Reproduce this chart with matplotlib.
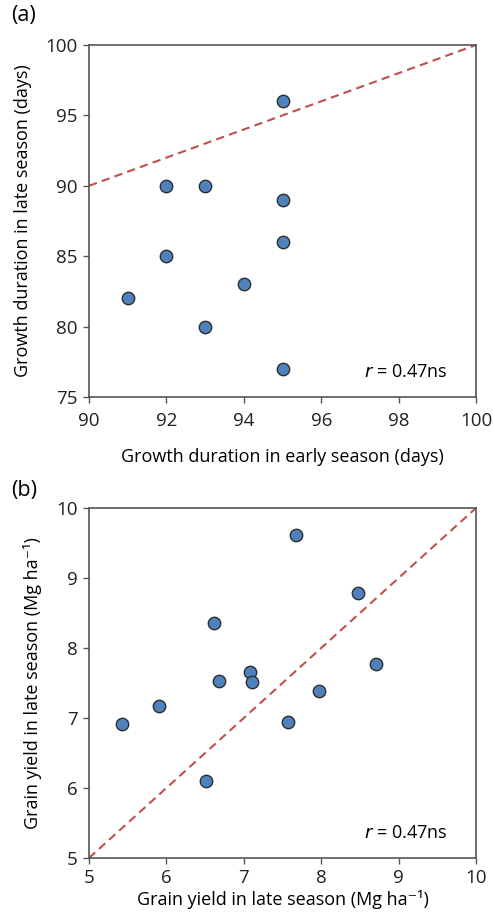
import matplotlib
matplotlib.use('Agg')
import matplotlib.pyplot as plt

plt.rcParams['font.family'] = ['Open Sans', 'DejaVu Sans']

# panel (a): growth duration (days)
dur_early = [91, 92, 92, 93, 93, 94, 95, 95, 95, 95]
dur_late = [82, 90, 85, 90, 80, 83, 96, 89, 86, 77]
dur_ticks_x = [90, 92, 94, 96, 98, 100]
dur_ticks_y = [75, 80, 85, 90, 95, 100]

# panel (b): grain yield (Mg ha-1)
yield_early = [5.42, 5.90, 6.51, 6.61, 6.68, 7.08, 7.10, 7.57, 7.68, 7.97, 8.47, 8.71]
yield_late = [6.92, 7.17, 6.10, 8.36, 7.53, 7.66, 7.52, 6.94, 9.61, 7.39, 8.78, 7.77]
yield_ticks = [5, 6, 7, 8, 9, 10]

r_text = '$\\it{r}$ = 0.47ns'

fig = plt.figure(figsize=(4.93, 9.22), dpi=100)
W, H = 493, 922

ax1 = fig.add_axes([89 / W, 1 - 397 / H, 387 / W, 352 / H])
ax2 = fig.add_axes([89 / W, 1 - 858 / H, 387 / W, 350 / H])

marker_kw = dict(s=80, c='#4F81BD', edgecolors='#2f2f2f', linewidths=1.0, zorder=3)
line_kw = dict(color='#C0504D', linestyle=(0, (4, 2.5)), linewidth=1.5, zorder=2)

ax1.plot([90, 100], [90, 100], **line_kw)
ax1.scatter(dur_early, dur_late, **marker_kw)
ax1.set_xlim(90, 100)
ax1.set_ylim(75, 100)
ax1.set_xticks(dur_ticks_x)
ax1.set_yticks(dur_ticks_y)
ax1.set_xlabel('Growth duration in early season (days)', fontsize=13, labelpad=13)
ax1.set_ylabel('Growth duration in late season (days)', fontsize=13, labelpad=10)
ax1.text(0.925, 0.045, r_text, transform=ax1.transAxes, ha='right', va='bottom', fontsize=13)

ax2.plot([5, 10], [5, 10], **line_kw)
ax2.scatter(yield_early, yield_late, **marker_kw)
ax2.set_xlim(5, 10)
ax2.set_ylim(5, 10)
ax2.set_xticks(yield_ticks)
ax2.set_yticks(yield_ticks)
ax2.set_xlabel('Grain yield in late season (Mg ha⁻¹)', fontsize=13, labelpad=2)
ax2.set_ylabel('Grain yield in late season (Mg ha⁻¹)', fontsize=13, labelpad=10)
ax2.text(0.925, 0.045, r_text, transform=ax2.transAxes, ha='right', va='bottom', fontsize=13)

for ax in (ax1, ax2):
    for sp in ax.spines.values():
        sp.set_color('#555555')
        sp.set_linewidth(1.2)
    ax.tick_params(direction='out', length=4, width=1, color='#555555',
                   labelsize=13.5, labelcolor='#222222', pad=4)
ax1.tick_params(axis='x', pad=7)

fig.text(11 / W, 1 - 16 / H, '(a)', fontsize=15.5, va='center', ha='left')
fig.text(11 / W, 1 - 490 / H, '(b)', fontsize=15.5, va='center', ha='left')

fig.savefig('out.png', dpi=100)
